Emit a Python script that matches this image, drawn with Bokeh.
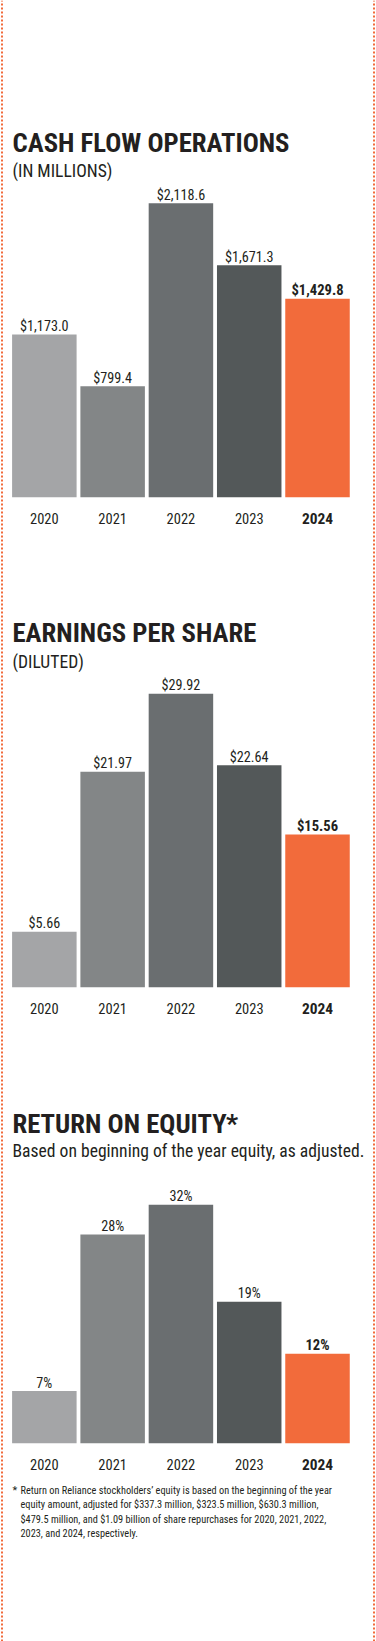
from bokeh.plotting import figure
from bokeh.models import Range1d, ColumnDataSource
from bokeh.core.properties import value, field
from bokeh.embed import file_html
from bokeh.resources import INLINE

# ---------------- data ----------------
years = ["2020", "2021", "2022", "2023", "2024"]

cash_flow = [1173.0, 799.4, 2118.6, 1671.3, 1429.8]
cash_flow_labels = ["$1,173.0", "$799.4", "$2,118.6", "$1,671.3", "$1,429.8"]

eps = [5.66, 21.97, 29.92, 22.64, 15.56]
eps_labels = ["$5.66", "$21.97", "$29.92", "$22.64", "$15.56"]

roe = [7, 28, 32, 19, 12]
roe_labels = ["7%", "28%", "32%", "19%", "12%"]

footnote_lines = [
    "Return on Reliance stockholders\u2019 equity is based on the beginning of the year",
    "equity amount, adjusted for $337.3 million, $323.5 million, $630.3 million,",
    "$479.5 million, and $1.09 billion of share repurchases for 2020, 2021, 2022,",
    "2023, and 2024, respectively.",
]

# ---------------- style ----------------
bar_colors = ["#a4a5a7", "#838687", "#6a6e70", "#535859", "#f26b3b"]
highlight = [y == "2024" for y in years]
styles = ["bold" if h else "normal" for h in highlight]
lab_sizes = ["14.6px" if h else "14.2px" for h in highlight]
year_sizes = ["15.4px" if h else "14.5px" for h in highlight]
FONT = "'Roboto Condensed', 'Noto Sans Condensed', 'Open Sans Condensed', Roboto, sans-serif"
INK = "#231f20"
ORANGE = "#f26b3b"

W, H = 376, 1641


def ry(y_ref):
    """page y (from top) -> pixel-from-bottom in the main range"""
    return H - y_ref


x0_center = 43.85
pitch = 68.29
bar_w = 64.5 / pitch

p = figure(width=W, height=H, output_backend="svg", toolbar_location=None,
           x_range=Range1d(-x0_center / pitch, (W - x0_center) / pitch),
           y_range=Range1d(0, H), min_border=0,
           x_axis_location=None, y_axis_location=None)
p.grid.visible = False
p.outline_line_color = None
p.background_fill_color = "white"
p.border_fill_color = "white"
p.extra_x_ranges = {"px": Range1d(0, W)}

charts = [
    dict(name="cf", values=cash_flow, labels=cash_flow_labels, base=496.7, top=202.7,
         title="CASH FLOW OPERATIONS", title_y=142, sub="(IN MILLIONS)", sub_y=170),
    dict(name="eps", values=eps, labels=eps_labels, base=986.7, top=693.3,
         title="EARNINGS PER SHARE", title_y=632, sub="(DILUTED)", sub_y=661),
    dict(name="roe", values=roe, labels=roe_labels, base=1442.7, top=1204.3,
         title="RETURN ON EQUITY*", title_y=1123,
         sub="Based on beginning of the year equity, as adjusted.", sub_y=1150),
]

idx = list(range(len(years)))
for c in charts:
    ppu = (c["base"] - c["top"]) / max(c["values"])
    b = ry(c["base"])
    p.extra_y_ranges[c["name"]] = Range1d(-b / ppu, (H - b) / ppu)
    src = ColumnDataSource(dict(x=idx, top=c["values"], label=c["labels"],
                                year=years, color=bar_colors, style=styles,
                                size=lab_sizes, ysize=year_sizes))
    p.vbar(x="x", top="top", bottom=0, width=bar_w, fill_color="color",
           line_color=None, source=src, y_range_name=c["name"])
    p.text(x="x", y="top", text="label", source=src, y_range_name=c["name"],
           y_offset=-8.5, text_align="center", text_baseline="alphabetic",
           text_font=value(FONT), text_font_size=field("size"),
           text_font_style=field("style"), text_color=INK)
    p.text(x="x", y=0, text="year", source=src, y_range_name=c["name"],
           y_offset=21.5, text_align="center", text_baseline="alphabetic",
           text_font=value(FONT), text_font_size=field("ysize"),
           text_font_style=field("style"), text_color=INK)
    p.text(x=[12], y=[ry(c["title_y"])], text=[c["title"]], x_range_name="px",
           text_align="left", text_baseline="alphabetic", text_font=value(FONT),
           text_font_size="26.7px", text_font_style="bold", text_color=INK)
    p.text(x=[12], y=[ry(c["sub_y"])], text=[c["sub"]], x_range_name="px",
           text_align="left", text_baseline="alphabetic", text_font=value(FONT),
           text_font_size="17.6px", text_color=INK)

# footnote
fn_y = [ry(1490 + i * 14.3) for i in range(len(footnote_lines))]
p.text(x=[12], y=[fn_y[0]], text=["*"], x_range_name="px",
       text_align="left", text_baseline="alphabetic", text_font=value(FONT),
       text_font_size="11px", text_color=INK)
p.text(x=[20] * len(footnote_lines), y=fn_y, text=footnote_lines, x_range_name="px",
       text_align="left", text_baseline="alphabetic", text_font=value(FONT),
       text_font_size="10.3px", text_color=INK)

# dotted side borders
p.segment(x0=[1.5, W - 2.5], x1=[1.5, W - 2.5], y0=[0, 0], y1=[H, H], x_range_name="px",
          line_color=ORANGE, line_width=2, line_dash="2 2")

open("out.html", "w").write(file_html(p, INLINE))
